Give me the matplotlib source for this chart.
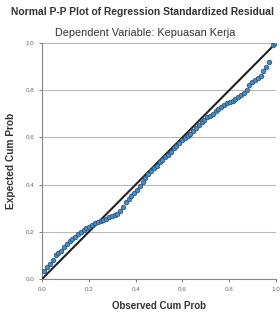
import matplotlib
matplotlib.use("Agg")
import matplotlib.pyplot as plt

# observed vs expected cumulative probabilities
observed = [0.010, 0.022, 0.034, 0.046, 0.058, 0.070, 0.082, 0.094, 0.106, 0.118,
            0.130, 0.142, 0.154, 0.166, 0.178, 0.190, 0.202, 0.214, 0.226, 0.238,
            0.250, 0.262, 0.274, 0.286, 0.298, 0.310, 0.322, 0.334, 0.346, 0.358,
            0.370, 0.382, 0.394, 0.406, 0.418, 0.430, 0.442, 0.454, 0.466, 0.478,
            0.490, 0.502, 0.514, 0.526, 0.538, 0.550, 0.562, 0.574, 0.586, 0.598,
            0.610, 0.622, 0.634, 0.646, 0.658, 0.670, 0.682, 0.694, 0.706, 0.718,
            0.730, 0.742, 0.754, 0.766, 0.778, 0.790, 0.802, 0.814, 0.826, 0.838,
            0.850, 0.862, 0.874, 0.886, 0.898, 0.910, 0.922, 0.934, 0.946, 0.958,
            0.970, 0.985, 0.995]
expected = [0.035, 0.050, 0.065, 0.080, 0.100, 0.110, 0.120, 0.135, 0.150, 0.160,
            0.168, 0.178, 0.192, 0.200, 0.208, 0.215, 0.222, 0.230, 0.236, 0.240,
            0.244, 0.250, 0.256, 0.262, 0.268, 0.272, 0.276, 0.290, 0.305, 0.325,
            0.340, 0.352, 0.365, 0.378, 0.392, 0.410, 0.430, 0.445, 0.458, 0.470,
            0.480, 0.495, 0.505, 0.515, 0.525, 0.540, 0.555, 0.565, 0.578, 0.588,
            0.598, 0.605, 0.615, 0.628, 0.640, 0.652, 0.665, 0.675, 0.685, 0.692,
            0.700, 0.710, 0.722, 0.730, 0.738, 0.744, 0.750, 0.756, 0.762, 0.770,
            0.778, 0.786, 0.800, 0.820, 0.835, 0.845, 0.852, 0.860, 0.880, 0.898,
            0.920, 0.990, 0.998]
ticks = [0.0, 0.2, 0.4, 0.6, 0.8, 1.0]
tick_labels = ["0.0", "0.2", "0.4", "0.6", "0.8", "1.0"]

plt.rcParams['font.family'] = ['Liberation Sans', 'DejaVu Sans']

fig = plt.figure(figsize=(2.8, 3.16), dpi=100)
ax = fig.add_axes([0.15, 0.117, 0.836, 0.747])

ax.set_xlim(0, 1)
ax.set_ylim(0, 1)
ax.grid(axis='y', color='#b8b8b8', linewidth=0.8)
ax.set_axisbelow(True)

ax.plot([0, 1], [0, 1], color='#222222', linewidth=1.5, zorder=3)
ax.scatter(observed, expected, s=11, c='#4a8cc0', edgecolors='#1f4e79',
           linewidths=0.5, zorder=4)

ax.set_xticks(ticks)
ax.set_xticklabels(tick_labels)
ax.set_yticks(ticks)
ax.set_yticklabels(tick_labels)
ax.tick_params(labelsize=4.5, colors='#666666', length=2, width=0.6)

for s in ['top', 'right']:
    ax.spines[s].set_visible(False)
for s in ['left', 'bottom']:
    ax.spines[s].set_color('#888888')
    ax.spines[s].set_linewidth(0.8)

ax.set_xlabel("Observed Cum Prob", fontsize=7, fontweight='bold', color='#333333', labelpad=7)
ax.set_ylabel("Expected Cum Prob", fontsize=7.3, fontweight='bold', color='#333333', labelpad=7)

fig.text(0.51, 0.962, "Normal P-P Plot of Regression Standardized Residual",
         ha='center', va='center', fontsize=7.4, fontweight='bold', color='#333333')
fig.text(0.52, 0.896, "Dependent Variable: Kepuasan Kerja",
         ha='center', va='center', fontsize=7.8, color='#333333')

fig.savefig("out.png", dpi=100)
